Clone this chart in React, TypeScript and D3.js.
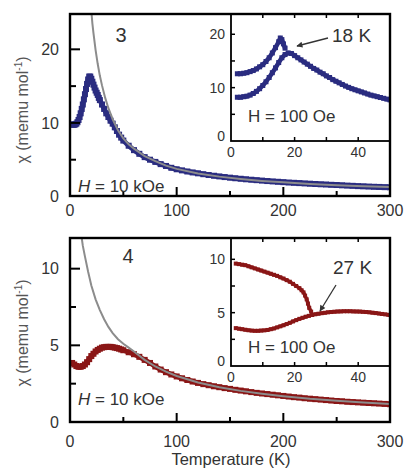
import React from 'react';
import * as d3 from 'd3';

type P = [number, number];

// ---- Compound 3 (top), H = 10 kOe, main curve ----
const topMain: P[] = [
  [2, 9.8], [3, 9.75], [4, 9.75], [5, 9.8], [6, 9.9], [7, 10.1], [8, 10.4], [9, 10.8], [10, 11.3],
  [11, 11.9], [12, 12.5], [13, 13.2], [14, 13.9], [15, 14.6], [16, 15.3], [17, 15.9], [18, 16.3],
  [19, 16.3], [20, 16.0], [21, 15.6], [22, 15.2], [23, 14.8], [24, 14.4], [25, 14.1], [26, 13.8],
  [27, 13.4], [28, 13.1], [30, 12.5], [32, 11.9], [34, 11.3], [36, 10.8], [38, 10.3], [40, 9.9],
  [42, 9.4], [44, 8.9], [46, 8.4], [48, 8.0], [50, 7.6], [55, 6.9], [60, 6.3], [65, 5.8], [70, 5.35],
  [75, 5.0], [80, 4.7], [85, 4.4], [90, 4.15], [95, 3.9], [100, 3.7], [105, 3.55], [110, 3.4],
  [115, 3.27], [120, 3.15], [125, 3.03], [130, 2.92], [135, 2.82], [140, 2.73], [145, 2.64],
  [150, 2.56], [155, 2.48], [160, 2.41], [165, 2.34], [170, 2.28], [175, 2.22], [180, 2.16],
  [185, 2.1], [190, 2.05], [195, 2.0], [200, 1.95], [205, 1.9], [210, 1.86], [215, 1.82],
  [220, 1.78], [225, 1.74], [230, 1.7], [235, 1.66], [240, 1.63], [245, 1.59], [250, 1.56],
  [255, 1.52], [260, 1.48], [265, 1.45], [270, 1.41], [275, 1.38], [280, 1.35], [285, 1.32],
  [290, 1.3], [295, 1.27], [300, 1.25],
];
const topFit: P[] = [
  [20, 25.2], [21, 23.5], [22, 22.2], [24, 19.9], [26, 18.0], [28, 16.4], [30, 15.1], [33, 13.4],
  [36, 12.0], [40, 10.5], [45, 9.0], [50, 7.9], [55, 7.1], [60, 6.5], [70, 5.5], [80, 4.8],
  [90, 4.2], [100, 3.75], [120, 3.12], [140, 2.7], [160, 2.38], [180, 2.12], [200, 1.92],
  [225, 1.71], [250, 1.54], [275, 1.4], [300, 1.28],
];
// inset, H = 100 Oe
const topInsetUpper: P[] = [
  [2, 12.6], [3, 12.6], [4, 12.7], [5, 12.8], [6, 13.0], [7, 13.2], [8, 13.5], [9, 13.9], [10, 14.3],
  [11, 14.9], [12, 15.6], [13, 16.5], [14, 17.5], [15, 18.6], [15.5, 19.3], [16, 19.0], [16.5, 18.2],
  [17, 17.4],
];
const topInsetLower: P[] = [
  [2, 8.2], [3, 8.2], [4, 8.3], [5, 8.4], [6, 8.6], [7, 8.9], [8, 9.3], [9, 9.8], [10, 10.4],
  [11, 11.1], [12, 11.9], [13, 12.8], [14, 13.7], [15, 14.7], [16, 15.6], [17, 16.2], [18, 16.5],
  [19, 16.4], [20, 16.0], [21, 15.6], [22, 15.2], [23, 14.8], [24, 14.4], [25, 14.0], [26, 13.6],
  [27, 13.3], [28, 12.9], [29, 12.6], [30, 12.2], [31, 11.9], [32, 11.5], [33, 11.2], [34, 10.9],
  [35, 10.6], [36, 10.3], [37, 10.05], [38, 9.8], [39, 9.6], [40, 9.4], [41, 9.2], [42, 9.0],
  [43, 8.8], [44, 8.6], [45, 8.45], [46, 8.3], [47, 8.15], [48, 8.0], [49, 7.85], [50, 7.7],
];

// ---- Compound 4 (bottom) ----
const bottomMain: P[] = [
  [2, 3.85], [4, 3.75], [6, 3.65], [8, 3.6], [10, 3.6], [12, 3.65], [14, 3.75], [16, 3.9], [18, 4.1],
  [20, 4.3], [22, 4.45], [24, 4.6], [26, 4.7], [28, 4.78], [30, 4.85], [32, 4.88], [34, 4.9],
  [36, 4.9], [38, 4.9], [40, 4.88], [42, 4.85], [44, 4.82], [46, 4.78], [48, 4.73], [50, 4.68],
  [55, 4.55], [60, 4.42], [65, 4.25], [70, 4.05], [75, 3.85], [80, 3.62], [85, 3.42], [90, 3.25],
  [95, 3.1], [100, 2.97], [105, 2.85], [110, 2.74], [115, 2.64], [120, 2.55], [125, 2.47],
  [130, 2.4], [135, 2.33], [140, 2.27], [145, 2.21], [150, 2.16], [155, 2.1], [160, 2.05],
  [165, 2.0], [170, 1.95], [175, 1.9], [180, 1.86], [185, 1.82], [190, 1.78], [195, 1.74],
  [200, 1.7], [205, 1.66], [210, 1.62], [215, 1.59], [220, 1.55], [225, 1.52], [230, 1.49],
  [235, 1.46], [240, 1.43], [245, 1.4], [250, 1.37], [255, 1.35], [260, 1.32], [265, 1.3],
  [270, 1.28], [275, 1.26], [280, 1.24], [285, 1.22], [290, 1.2], [295, 1.18], [300, 1.16],
];
const bottomFit: P[] = [
  [9.5, 12.8], [10, 12.5], [11, 12.0], [12, 11.5], [14, 10.8], [17, 9.8], [20, 8.9], [24, 8.0],
  [28, 7.3], [32, 6.7], [36, 6.2], [40, 5.8], [45, 5.4], [50, 5.1], [55, 4.85], [60, 4.6],
  [70, 4.05], [80, 3.62], [90, 3.28], [100, 3.0], [120, 2.58], [140, 2.27], [160, 2.03],
  [180, 1.84], [200, 1.68], [225, 1.51], [250, 1.38], [275, 1.27], [300, 1.17],
];
const bottomInsetUpper: P[] = [
  [1.5, 9.6], [2.5, 9.55], [3.5, 9.5], [4.5, 9.45], [5.5, 9.35], [6.5, 9.25], [7.5, 9.15],
  [8.5, 9.05], [9.5, 8.95], [10.5, 8.85], [11.5, 8.75], [12.5, 8.65], [13.5, 8.55], [14.5, 8.45],
  [15.5, 8.32], [16.5, 8.2], [17.5, 8.05], [18.5, 7.9], [19.5, 7.7], [20.5, 7.5], [21.5, 7.3],
  [22.2, 7.1], [22.8, 6.9], [23.3, 6.6], [23.8, 6.25], [24.2, 5.85], [24.6, 5.45], [25.2, 5.1],
];
const bottomInsetLower: P[] = [
  [1.5, 3.55], [2.5, 3.5], [3.5, 3.45], [4.5, 3.4], [5.5, 3.35], [6.5, 3.32], [7.5, 3.3],
  [8.5, 3.3], [9.5, 3.32], [10.5, 3.34], [11.5, 3.38], [12.5, 3.45], [13.5, 3.52], [14.5, 3.62],
  [15.5, 3.72], [16.5, 3.82], [17.5, 3.93], [18.5, 4.05], [19.5, 4.18], [20.5, 4.3], [21.5, 4.42],
  [22.5, 4.52], [23.5, 4.62], [24.5, 4.7], [25.5, 4.78], [26.5, 4.85], [27.5, 4.9], [28.5, 4.95],
  [29.5, 4.99], [30.5, 5.03], [31.5, 5.06], [32.5, 5.09], [33.5, 5.11], [34.5, 5.12], [35.5, 5.13],
  [36.5, 5.13], [37.5, 5.13], [38.5, 5.12], [39.5, 5.11], [40.5, 5.1], [41.5, 5.08], [42.5, 5.06],
  [43.5, 5.03], [44.5, 5.0], [45.5, 4.96], [46.5, 4.92], [47.5, 4.88], [48.5, 4.84], [49.5, 4.8],
  [50, 4.78],
];

// ticks
const mainXTicks = [50, 100, 150, 200, 250];
const mainXMajor = [100, 200];
const mainXLabels = [0, 100, 200, 300];
const topYTicks = [5, 10, 15, 20];
const topYMajor = [10, 20];
const topYLabels = [0, 10, 20];
const bottomYTicks = [2.5, 5, 7.5, 10];
const bottomYMajor = [5, 10];
const bottomYLabels = [0, 5, 10];
const insetXTicks = [10, 20, 30, 40];
const insetXLabels = [0, 20, 40];
const topInsetYTicks = [5, 10, 15, 20];
const topInsetYLabels = [0, 10, 20];
const bottomInsetYTicks = [2.5, 5, 7.5, 10];
const bottomInsetYLabels = [0, 5, 10];

const FONT = "'Liberation Sans', Arial, sans-serif";
const BLUE = '#2a2c80';
const RED = '#8a1616';
const GRAY = '#8c8c8c';
const TXT = '#333';

function Series({ data, x, y, color, size, lw }: any) {
  const line = d3.line<P>().x((d) => x(d[0])).y((d) => y(d[1]));
  return (
    <g>
      <path d={line(data) || ''} fill="none" stroke={color} strokeWidth={lw} strokeLinejoin="round" />
      {data.map((d: P, i: number) => (
        <rect key={i} x={x(d[0]) - size / 2} y={y(d[1]) - size / 2} width={size} height={size} fill={color} />
      ))}
    </g>
  );
}

function Panel(props: any) {
  const {
    id, top, bottom, yMax, yZero, yTicks, yMajor, yLabels, xLabelBase,
    main, fit, color, insetBottom, insetYMax, insetYTicks, insetYLabels,
    upper, lower, num, numX, numY, hY, insetHY, kLabel, kX, kY, arrow,
    mainSize, insetSize, yLabelY,
  } = props;
  const L = 70, R = 390, IL = 231;
  const x = d3.scaleLinear().domain([0, 300]).range([L, R]);
  const y = d3.scaleLinear().domain([0, yMax]).range([yZero, top]);
  const ix = d3.scaleLinear().domain([0, 50]).range([IL, R]);
  const iy = d3.scaleLinear().domain([0, insetYMax]).range([insetBottom, top]);
  const fitLine = d3.line<P>().x((d) => x(d[0])).y((d) => y(d[1]));
  return (
    <g>
      <defs>
        <clipPath id={`clip-${id}`}>
          <rect x={L} y={top} width={R - L} height={bottom - top} />
        </clipPath>
        <clipPath id={`iclip-${id}`}>
          <rect x={IL} y={top} width={R - IL} height={insetBottom - top} />
        </clipPath>
      </defs>
      <g clipPath={`url(#clip-${id})`}>
        <Series data={main} x={x} y={y} color={color} size={mainSize} lw={mainSize - 1} />
        <path d={fitLine(fit) || ''} fill="none" stroke={GRAY} strokeWidth={2} />
      </g>
      {/* main ticks */}
      {mainXTicks.map((t) => (
        <line key={`xt${t}`} x1={x(t)} x2={x(t)} y1={bottom} y2={bottom - (mainXMajor.includes(t) ? 9 : 5)} stroke="#000" strokeWidth={2} />
      ))}
      {yTicks.map((t: number) => (
        <line key={`yt${t}`} x1={L} x2={L + (yMajor.includes(t) ? 10 : 6)} y1={y(t)} y2={y(t)} stroke="#000" strokeWidth={2} />
      ))}
      {mainXLabels.map((t) => (
        <text key={`xl${t}`} x={x(t)} y={xLabelBase} textAnchor="middle" fontSize={16} fill={TXT} fontFamily={FONT}>{t}</text>
      ))}
      {yLabels.map((t: number) => (
        <text key={`yl${t}`} x={59} y={y(t)} dy="0.36em" textAnchor="end" fontSize={16} fill={TXT} fontFamily={FONT}>{t}</text>
      ))}
      <text transform={`translate(28,${yLabelY}) rotate(-90)`} textAnchor="middle" fontSize={16} fill="#555" fontFamily={FONT}>
        χ (memu mol<tspan dy={-6} fontSize={10}>-1</tspan><tspan dy={6}>)</tspan>
      </text>
      <text x={numX} y={numY} textAnchor="middle" fontSize={20} fill={TXT} fontFamily={FONT}>{num}</text>
      <text x={78} y={hY} fontSize={17} fill={TXT} fontFamily={FONT}>
        <tspan fontStyle="italic">H</tspan> = 10 kOe
      </text>

      {/* inset */}
      <rect x={IL} y={top} width={R - IL} height={insetBottom - top} fill="#fff" stroke="#000" strokeWidth={1.8} />
      <g clipPath={`url(#iclip-${id})`}>
        <Series data={upper} x={ix} y={iy} color={color} size={insetSize} lw={insetSize - 0.5} />
        <Series data={lower} x={ix} y={iy} color={color} size={insetSize} lw={insetSize - 0.5} />
      </g>
      {insetXTicks.map((t) => (
        <g key={`ixt${t}`}>
          <line x1={ix(t)} x2={ix(t)} y1={insetBottom} y2={insetBottom - 4} stroke="#000" strokeWidth={1.5} />
          <line x1={ix(t)} x2={ix(t)} y1={top} y2={top + 4} stroke="#000" strokeWidth={1.5} />
        </g>
      ))}
      {insetYTicks.map((t: number) => (
        <line key={`iyt${t}`} x1={IL} x2={IL + 4} y1={iy(t)} y2={iy(t)} stroke="#000" strokeWidth={1.5} />
      ))}
      {insetXLabels.map((t) => (
        <text key={`ixl${t}`} x={ix(t)} y={insetBottom + 16} textAnchor="middle" fontSize={14} fill={TXT} fontFamily={FONT}>{t}</text>
      ))}
      {insetYLabels.map((t: number) => (
        <text key={`iyl${t}`} x={225} y={iy(t) - (t === 0 ? 5 : 0)} dy="0.36em" textAnchor="end" fontSize={14} fill={TXT} fontFamily={FONT}>{t}</text>
      ))}
      <text x={248} y={insetHY} fontSize={17} fill={TXT} fontFamily={FONT}>H = 100 Oe</text>
      <text x={kX} y={kY} fontSize={19} fill={TXT} fontFamily={FONT}>{kLabel}</text>
      <line x1={arrow[0]} y1={arrow[1]} x2={arrow[2]} y2={arrow[3]} stroke="#333" strokeWidth={1.3} markerEnd="url(#arrowHead)" />

      {/* main frame on top */}
      <rect x={L} y={top} width={R - L} height={bottom - top} fill="none" stroke="#000" strokeWidth={2.4} />
    </g>
  );
}

export default function App() {
  return (
    <svg width={406} height={471} style={{ position: 'absolute', left: 0, top: 0, background: '#fff' }}>
      <defs>
        <marker id="arrowHead" viewBox="0 0 10 10" refX="9" refY="5" markerWidth="7" markerHeight="6" orient="auto" markerUnits="userSpaceOnUse">
          <path d="M0,0 L10,5 L0,10 z" fill="#333" />
        </marker>
      </defs>
      <rect width={406} height={471} fill="#fff" />
      <Panel
        id="top" top={14} bottom={196} yMax={24.8} yZero={196.5}
        yTicks={topYTicks} yMajor={topYMajor} yLabels={topYLabels} xLabelBase={216}
        main={topMain} fit={topFit} color={BLUE}
        insetBottom={141} insetYMax={23.8} insetYTicks={topInsetYTicks} insetYLabels={topInsetYLabels}
        upper={topInsetUpper} lower={topInsetLower}
        num="3" numX={121} numY={42} hY={192} insetHY={122}
        kLabel="18 K" kX={332} kY={42} arrow={[328, 38, 297, 46]}
        mainSize={6} insetSize={5} yLabelY={110}
      />
      <Panel
        id="bottom" top={238} bottom={422} yMax={12} yZero={422}
        yTicks={bottomYTicks} yMajor={bottomYMajor} yLabels={bottomYLabels} xLabelBase={447}
        main={bottomMain} fit={bottomFit} color={RED}
        insetBottom={366} insetYMax={12} insetYTicks={bottomInsetYTicks} insetYLabels={bottomInsetYLabels}
        upper={bottomInsetUpper} lower={bottomInsetLower}
        num="4" numX={128} numY={263} hY={405} insetHY={353}
        kLabel="27 K" kX={333} kY={274} arrow={[336, 285, 320, 311]}
        mainSize={6} insetSize={4} yLabelY={333}
      />
      <text x={231} y={465} textAnchor="middle" fontSize={16.5} fill={TXT} fontFamily={FONT}>Temperature (K)</text>
    </svg>
  );
}
